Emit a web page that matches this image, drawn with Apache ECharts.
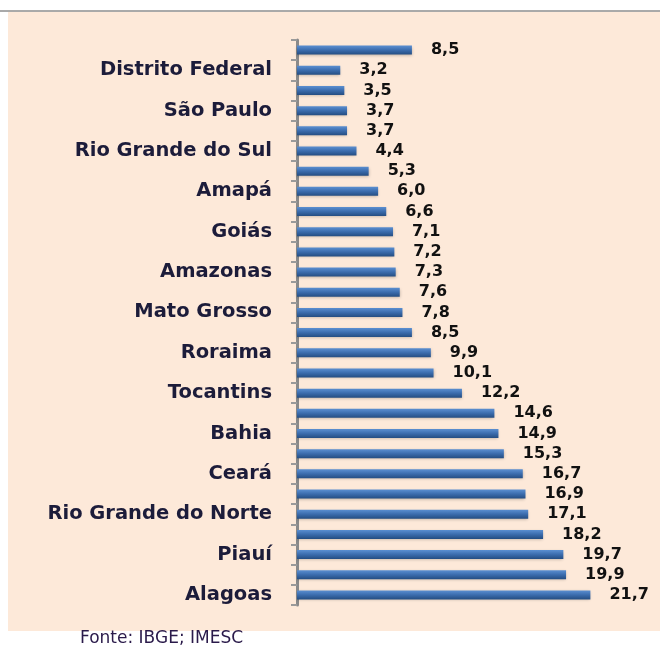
<!DOCTYPE html>
<html>
<head>
<meta charset="utf-8">
<script src="https://cdn.jsdelivr.net/npm/echarts@6/dist/echarts.min.js"></script>
<style>
  html, body { margin: 0; padding: 0; background: #fff; }
  #chart { width: 660px; height: 645px; }
</style>
</head>
<body>
<div id="chart"></div>
<script>
// categorias de cima para baixo (só as de índice ímpar aparecem no eixo)
var estados = ['Brasil', 'Distrito Federal', 'Santa Catarina', 'São Paulo', 'Rio de Janeiro',
  'Rio Grande do Sul', 'Paraná', 'Amapá', 'Espírito Santo', 'Goiás', 'Mato Grosso do Sul',
  'Amazonas', 'Minas Gerais', 'Mato Grosso', 'Rondônia', 'Roraima', 'Pará', 'Tocantins',
  'Sergipe', 'Bahia', 'Pernambuco', 'Ceará', 'Acre', 'Rio Grande do Norte', 'Paraíba',
  'Piauí', 'Maranhão', 'Alagoas'];
var valores = [8.5, 3.2, 3.5, 3.7, 3.7, 4.4, 5.3, 6.0, 6.6, 7.1, 7.2, 7.3, 7.6, 7.8, 8.5,
  9.9, 10.1, 12.2, 14.6, 14.9, 15.3, 16.7, 16.9, 17.1, 18.2, 19.7, 19.9, 21.7];
var fonte = 'Fonte: IBGE; IMESC';

var chart = echarts.init(document.getElementById('chart'));

var option = {
  animation: false,
  graphic: [
    { type: 'rect', z: -10, shape: { x: 8, y: 12, width: 652, height: 619 }, style: { fill: '#fde9d9' } },
    { type: 'line', shape: { x1: 0, y1: 11, x2: 660, y2: 11 }, style: { stroke: '#555', lineWidth: 1 } },
    { type: 'text', left: 80, top: 630, style: { text: fonte, fill: '#2a1a4a', font: '17px "DejaVu Sans", sans-serif' } }
  ],
  grid: { left: 297, top: 40, width: 338, height: 565 },
  xAxis: {
    type: 'value',
    min: 0,
    max: 25,
    show: false
  },
  yAxis: {
    type: 'category',
    data: estados,
    inverse: true,
    axisLine: { lineStyle: { color: '#8a8a8a', width: 3 } },
    axisTick: { show: true, interval: 0, length: 6, lineStyle: { color: '#9a9a9a', width: 2 } },
    axisLabel: {
      interval: function (index) { return index % 2 === 1; },
      margin: 25,
      color: '#1c1c3a',
      fontSize: 19.5,
      fontWeight: 'bold',
      fontFamily: '"DejaVu Sans", sans-serif'
    }
  },
  series: [{
    type: 'bar',
    data: valores,
    barWidth: 9,
    itemStyle: {
      color: new echarts.graphic.LinearGradient(0, 0, 0, 1, [
        { offset: 0, color: '#5b8fd1' },
        { offset: 0.5, color: '#3b6cad' },
        { offset: 1, color: '#244d82' }
      ]),
      shadowColor: 'rgba(0,0,0,0.25)',
      shadowBlur: 3,
      shadowOffsetY: 1
    },
    label: {
      show: true,
      position: 'right',
      distance: 19,
      color: '#111',
      fontSize: 16,
      fontWeight: 'bold',
      fontFamily: '"DejaVu Sans", sans-serif',
      formatter: function (p) { return p.value.toFixed(1).replace('.', ','); }
    }
  }]
};

chart.setOption(option);
</script>
</body>
</html>
